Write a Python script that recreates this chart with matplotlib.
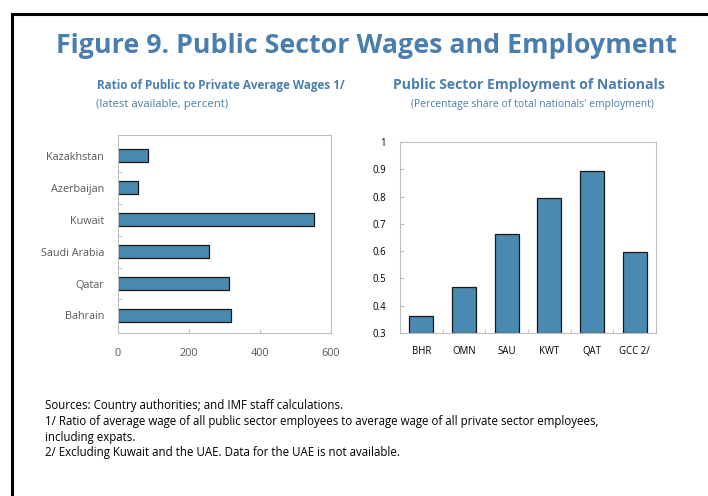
import matplotlib
matplotlib.use("Agg")
import matplotlib.pyplot as plt
from matplotlib.patches import Rectangle

# Data
wage_countries = ["Kazakhstan", "Azerbaijan", "Kuwait", "Saudi Arabia", "Qatar", "Bahrain"]
wage_ratio = [85, 57, 551, 256, 314, 319]
wage_xticks = [0, 200, 400, 600]

emp_countries = ["BHR", "OMN", "SAU", "KWT", "QAT", "GCC 2/"]
emp_share = [0.361, 0.470, 0.664, 0.793, 0.895, 0.598]
emp_yticks = [0.3, 0.4, 0.5, 0.6, 0.7, 0.8, 0.9, 1.0]
emp_ytick_labels = ["0.3", "0.4", "0.5", "0.6", "0.7", "0.8", "0.9", "1"]

title = "Figure 9. Public Sector Wages and Employment"
left_title = "Ratio of Public to Private Average Wages 1/"
left_sub = "(latest available, percent)"
right_title = "Public Sector Employment of Nationals"
right_sub = "(Percentage share of total nationals' employment)"
notes = [
    "Sources: Country authorities; and IMF staff calculations.",
    "1/ Ratio of average wage of all public sector employees to average wage of all private sector employees,",
    "including expats.",
    "2/ Excluding Kuwait and the UAE. Data for the UAE is not available.",
]

plt.rcParams['font.family'] = ['Open Sans', 'DejaVu Sans']
W, H = 708, 496
fig = plt.figure(figsize=(W / 100, H / 100), dpi=100)

BLUE = "#4a7eaf"
BAR = "#4a8ab0"
SPINE = "#bfbfbf"
GRAY = "#595959"

def fx(px):
    return px / W

def fy(py):
    return 1 - py / H

# frame
fig.add_artist(Rectangle((fx(12), fy(600)), fx(800), fy(14) - fy(600),
                         transform=fig.transFigure, fill=False, edgecolor="black", linewidth=2.2))

fig.text(fx(366), fy(46), title, ha="center", va="center", fontsize=19.3,
         fontweight="bold", color=BLUE)
fig.text(fx(221), fy(85), left_title, ha="center", va="center", fontsize=8.4,
         fontweight="bold", color=BLUE)
fig.text(fx(96), fy(105), left_sub, ha="left", va="center", fontsize=8.2, color=BLUE)
fig.text(fx(529), fy(85), right_title, ha="center", va="center", fontsize=10.1,
         fontweight="bold", color=BLUE)
fig.text(fx(532), fy(105), right_sub, ha="center", va="center", fontsize=7.5, color=BLUE)

for i, line in enumerate(notes):
    fig.text(fx(45), fy(406 + i * 15.6), line, ha="left", va="center", fontsize=8.3, color="black")

# Left panel
ax1 = fig.add_axes([fx(118), fy(333), fx(331 - 118), fy(135) - fy(333)])
ypos = list(range(len(wage_countries)))
ax1.barh(ypos, wage_ratio, height=0.4, color=BAR, edgecolor="#1a1a1a", linewidth=0.9)
ax1.set_yticks(ypos)
ax1.set_yticklabels(wage_countries)
ax1.set_ylim(len(wage_countries) - 0.45, -0.65)
ax1.set_xlim(0, 600)
ax1.set_xticks(wage_xticks)
ax1.set_yticks([i + 0.5 for i in range(len(wage_countries) - 1)], minor=True)
ax1.tick_params(axis="y", which="major", length=0, pad=10, labelsize=7.8, labelcolor=GRAY)
ax1.tick_params(axis="y", which="minor", length=3, direction="in", color=SPINE)
ax1.tick_params(axis="x", which="major", length=3, direction="in", color=SPINE, pad=11,
                labelsize=7.8, labelcolor=GRAY)
for s in ax1.spines.values():
    s.set_color(SPINE)
    s.set_linewidth(0.8)

# Right panel
ax2 = fig.add_axes([fx(400), fy(333), fx(656 - 400), fy(142) - fy(333)])
xpos = list(range(len(emp_countries)))
ax2.bar(xpos, [v - 0.3 for v in emp_share], bottom=0.3, width=0.57, color=BAR,
        edgecolor="#1a1a1a", linewidth=0.9)
ax2.set_xticks(xpos)
ax2.set_xticklabels(emp_countries)
ax2.set_xlim(-0.5, len(emp_countries) - 0.5)
ax2.set_ylim(0.3, 1.0)
ax2.set_yticks(emp_yticks)
ax2.set_yticklabels(emp_ytick_labels)
ax2.set_xticks([i + 0.5 for i in range(len(emp_countries) - 1)], minor=True)
ax2.tick_params(axis="x", which="major", length=0, pad=9, labelsize=6.9, labelcolor="black")
ax2.tick_params(axis="x", which="minor", length=3, direction="in", color=SPINE)
ax2.tick_params(axis="y", which="major", length=3, direction="in", color=SPINE, pad=10,
                labelsize=6.9, labelcolor="black")
for s in ax2.spines.values():
    s.set_color(SPINE)
    s.set_linewidth(0.8)

fig.savefig("out.png", dpi=100)
